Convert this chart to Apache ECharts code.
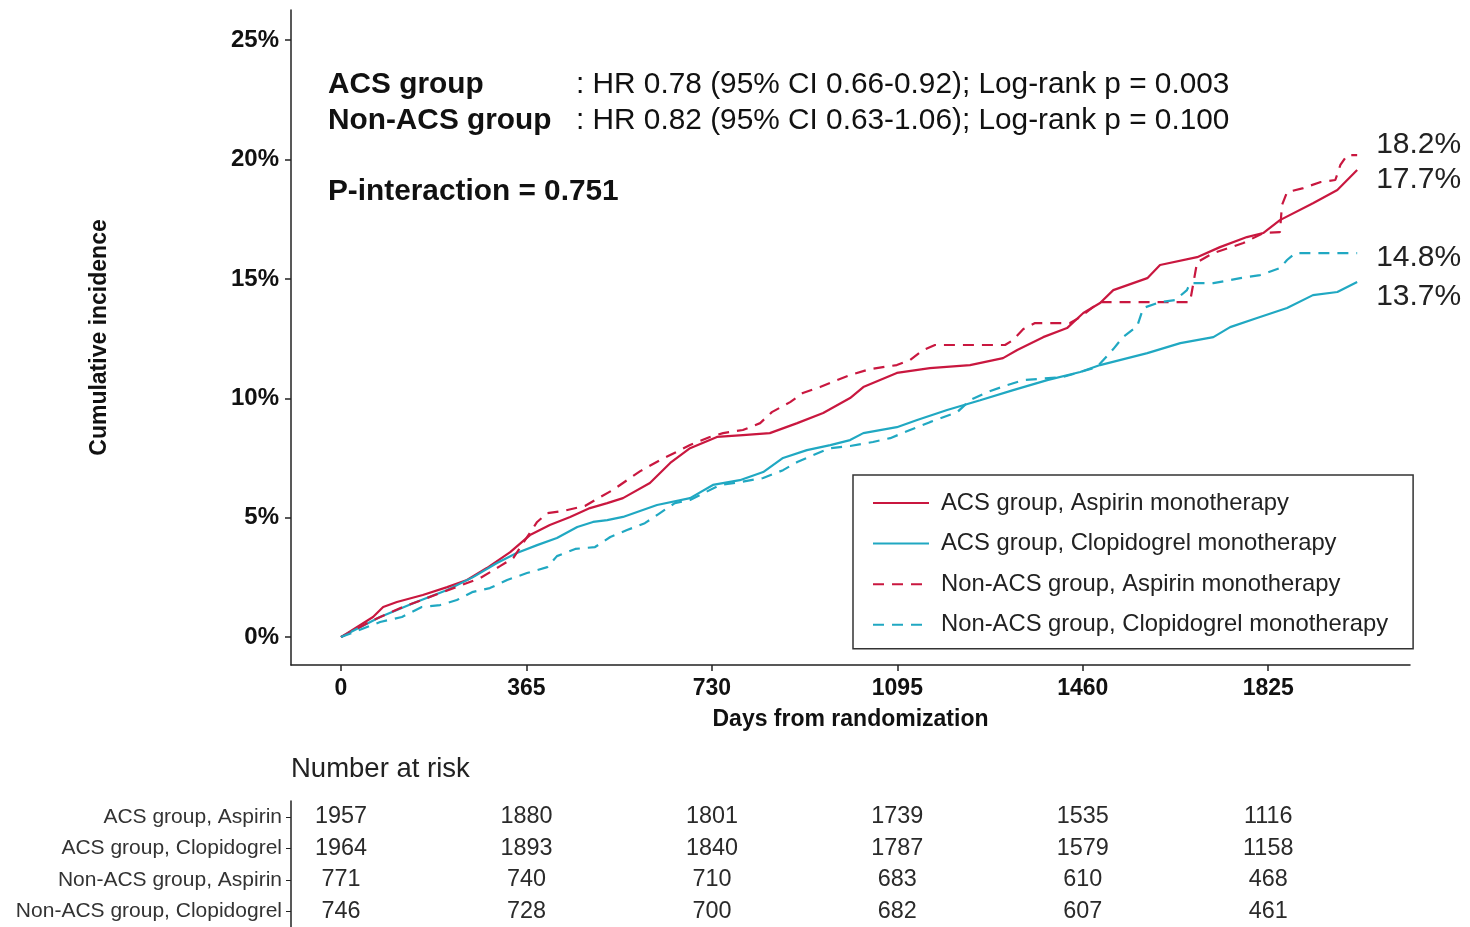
<!DOCTYPE html>
<html>
<head>
<meta charset="utf-8">
<title>Cumulative incidence by ACS status and antiplatelet monotherapy</title>
<script src="https://cdn.jsdelivr.net/npm/echarts@6/dist/echarts.min.js"></script>
<style>
  html, body { margin: 0; padding: 0; background: #fff; }
  #chart { width: 1470px; height: 927px; }
</style>
</head>
<body>
<div id="chart"></div>
<script>
// Kaplan-Meier style cumulative incidence curves, [day, percent]
const acsAspirin = [
  [0, 0], [63, 0.84], [83, 1.26], [110, 1.47], [161, 1.76], [209, 2.09], [248, 2.39],
  [287, 2.89], [333, 3.56], [372, 4.27], [411, 4.69], [451, 5.03], [490, 5.40], [524, 5.61],
  [555, 5.82], [608, 6.45], [648, 7.29], [687, 7.91], [740, 8.38], [791, 8.46], [844, 8.54],
  [898, 8.96], [949, 9.38], [1002, 10.01], [1028, 10.47], [1094, 11.06], [1159, 11.26],
  [1238, 11.39], [1303, 11.68], [1331, 12.02], [1382, 12.56], [1429, 12.94], [1461, 13.57],
  [1494, 13.99], [1520, 14.53], [1587, 15.03], [1612, 15.58], [1685, 15.91], [1730, 16.33],
  [1783, 16.75], [1815, 16.92], [1848, 17.46], [1913, 18.17], [1961, 18.72], [2000, 19.56]
];
const acsClopidogrel = [
  [0, 0], [77, 0.84], [142, 1.42], [209, 1.97], [260, 2.51], [307, 3.10], [346, 3.52],
  [386, 3.85], [425, 4.15], [465, 4.61], [496, 4.82], [524, 4.90], [555, 5.03], [622, 5.53],
  [687, 5.82], [732, 6.37], [785, 6.57], [831, 6.91], [870, 7.50], [917, 7.83], [963, 8.04],
  [1002, 8.25], [1028, 8.54], [1094, 8.79], [1134, 9.09], [1193, 9.51], [1258, 9.92],
  [1323, 10.34], [1390, 10.76], [1455, 11.10], [1494, 11.39], [1587, 11.89], [1652, 12.31],
  [1717, 12.56], [1750, 12.98], [1803, 13.36], [1862, 13.78], [1913, 14.32], [1961, 14.45],
  [2000, 14.87]
];
const nonAcsAspirin = [
  [0, 0], [63, 0.71], [116, 1.21], [195, 1.84], [274, 2.47], [313, 2.97], [339, 3.31],
  [386, 4.82], [406, 5.19], [437, 5.28], [480, 5.49], [510, 5.86], [535, 6.16], [563, 6.57],
  [589, 6.95], [628, 7.41], [687, 8.04], [726, 8.38], [752, 8.54], [791, 8.67], [825, 8.96],
  [848, 9.42], [884, 9.84], [909, 10.22], [943, 10.47], [976, 10.76], [1002, 10.97],
  [1041, 11.22], [1094, 11.39], [1120, 11.60], [1146, 12.02], [1169, 12.23], [1307, 12.23],
  [1323, 12.44], [1343, 12.90], [1366, 13.15], [1435, 13.15], [1455, 13.40], [1480, 13.82],
  [1494, 14.03], [1671, 14.03], [1685, 15.70], [1717, 16.08], [1776, 16.50], [1815, 16.92],
  [1848, 16.96], [1852, 18.09], [1862, 18.63], [1894, 18.80], [1927, 19.05], [1957, 19.14],
  [1967, 19.77], [1980, 20.18], [2000, 20.18]
];
const nonAcsClopidogrel = [
  [0, 0], [77, 0.63], [120, 0.84], [159, 1.26], [195, 1.34], [228, 1.55], [258, 1.88],
  [293, 2.05], [327, 2.39], [366, 2.68], [406, 2.93], [425, 3.39], [461, 3.69], [500, 3.77],
  [530, 4.19], [563, 4.48], [598, 4.77], [622, 5.11], [657, 5.61], [687, 5.74], [746, 6.37],
  [785, 6.49], [831, 6.66], [870, 6.99], [898, 7.33], [929, 7.62], [963, 7.91], [1002, 8.00],
  [1047, 8.17], [1081, 8.33], [1120, 8.67], [1159, 9.00], [1213, 9.42], [1238, 9.92],
  [1272, 10.26], [1311, 10.55], [1343, 10.76], [1421, 10.89], [1455, 11.10], [1488, 11.31],
  [1520, 12.06], [1539, 12.56], [1567, 13.02], [1579, 13.78], [1612, 14.03], [1642, 14.11],
  [1665, 14.53], [1671, 14.82], [1717, 14.82], [1770, 15.03], [1809, 15.16], [1848, 15.45],
  [1862, 15.79], [1878, 16.08], [2000, 16.08]
];

const seriesNames = [
  'ACS group, Aspirin monotherapy',
  'ACS group, Clopidogrel monotherapy',
  'Non-ACS group, Aspirin monotherapy',
  'Non-ACS group, Clopidogrel monotherapy'
];
// 5-year event rates printed beside the curve ends
const fiveYearRates = ['17.7%', '13.7%', '18.2%', '14.8%'];

const dayTicks = [0, 365, 730, 1095, 1460, 1825];
const pctTicks = [0, 5, 10, 15, 20, 25];

// Number at risk table
const riskRows = ['ACS group, Aspirin', 'ACS group, Clopidogrel', 'Non-ACS group, Aspirin', 'Non-ACS group, Clopidogrel'];
const riskAcsAspirin = [1957, 1880, 1801, 1739, 1535, 1116];
const riskAcsClopidogrel = [1964, 1893, 1840, 1787, 1579, 1158];
const riskNonAcsAspirin = [771, 740, 710, 683, 610, 468];
const riskNonAcsClopidogrel = [746, 728, 700, 682, 607, 461];

const RED = '#C9173F';
const CYAN = '#20A8C2';
const FONT = '"Liberation Sans", Arial, Helvetica, sans-serif';

const curves = [acsAspirin, acsClopidogrel, nonAcsAspirin, nonAcsClopidogrel];
const colors = [RED, CYAN, RED, CYAN];
const dashed = [false, false, true, true];
const endOffsets = [[0, 10], [0, 15], [0, -10], [0, 5]];

const lineSeries = curves.map((data, i) => ({
  name: seriesNames[i],
  type: 'line',
  xAxisIndex: 0,
  yAxisIndex: 0,
  data: data,
  symbol: 'none',
  silent: true,
  animation: false,
  lineStyle: { color: colors[i], width: 2.2, type: dashed[i] ? [11, 8] : 'solid' },
  itemStyle: { color: colors[i] },
  z: dashed[i] ? 3 : 2,
  endLabel: {
    show: true,
    formatter: () => fiveYearRates[i],
    color: '#222',
    fontSize: 30,
    fontFamily: FONT,
    distance: 19,
    offset: endOffsets[i]
  }
}));

const riskValues = [riskAcsAspirin, riskAcsClopidogrel, riskNonAcsAspirin, riskNonAcsClopidogrel];
const riskData = [];
riskValues.forEach((row, r) => {
  row.forEach((n, k) => riskData.push([dayTicks[k], riskRows[r], n]));
});

const xRange = { min: -98.4, max: 2104 };
const plain = v => String(v);

const option = {
  backgroundColor: '#fff',
  animation: false,
  textStyle: { fontFamily: FONT },
  grid: [
    { left: 291, right: 60, top: 10, bottom: 262, containLabel: false },
    { left: 291, right: 60, top: 801, height: 129, containLabel: false }
  ],
  xAxis: [
    {
      type: 'value', gridIndex: 0, min: xRange.min, max: xRange.max,
      axisLine: { show: true, onZero: false, lineStyle: { color: '#222', width: 1.5 } },
      axisTick: { show: true, customValues: dayTicks, length: 6, lineStyle: { color: '#222', width: 1.5 } },
      axisLabel: { customValues: dayTicks, formatter: plain, color: '#111', fontWeight: 'bold', fontSize: 23, margin: 12 },
      splitLine: { show: false },
      name: 'Days from randomization', nameLocation: 'middle', nameGap: 43,
      nameTextStyle: { color: '#111', fontWeight: 'bold', fontSize: 23 }
    },
    {
      type: 'value', gridIndex: 1, min: xRange.min, max: xRange.max, show: false
    }
  ],
  yAxis: [
    {
      type: 'value', gridIndex: 0, min: -1.17, max: 26.26,
      axisLine: { show: true, onZero: false, lineStyle: { color: '#222', width: 1.5 } },
      axisTick: { show: true, customValues: pctTicks, length: 6, lineStyle: { color: '#222', width: 1.5 } },
      axisLabel: { customValues: pctTicks, formatter: '{value}%', color: '#111', fontWeight: 'bold', fontSize: 24, margin: 12 },
      splitLine: { show: false },
      name: 'Cumulative incidence', nameLocation: 'middle', nameRotate: 90, nameGap: 180,
      nameTextStyle: { color: '#111', fontWeight: 'bold', fontSize: 23 }
    },
    {
      type: 'category', gridIndex: 1, data: riskRows, inverse: true,
      axisLine: { show: true, onZero: false, lineStyle: { color: '#222', width: 1.5 } },
      axisTick: { show: true, alignWithLabel: true, length: 5, lineStyle: { color: '#222', width: 1 } },
      axisLabel: { color: '#333', fontSize: 21, margin: 9 },
      splitLine: { show: false }
    }
  ],
  legend: {
    data: seriesNames,
    orient: 'vertical',
    left: 853,
    top: 475,
    itemWidth: 56,
    itemHeight: 20,
    itemGap: 16.6,
    padding: [16, 25, 12, 19],
    borderColor: '#333',
    borderWidth: 1.5,
    backgroundColor: '#fff',
    selectedMode: false,
    itemStyle: { opacity: 0 },
    textStyle: { color: '#222', fontSize: 23.8, padding: [0, 0, 0, 7] }
  },
  graphic: [
    { type: 'text', left: 328, top: 70, style: { text: 'ACS group', font: 'bold 29.8px ' + FONT, fill: '#111' } },
    { type: 'text', left: 576, top: 70, style: { text: ': HR 0.78 (95% CI 0.66-0.92); Log-rank p = 0.003', font: '29.8px ' + FONT, fill: '#111' } },
    { type: 'text', left: 328, top: 106, style: { text: 'Non-ACS group', font: 'bold 29.8px ' + FONT, fill: '#111' } },
    { type: 'text', left: 576, top: 106, style: { text: ': HR 0.82 (95% CI 0.63-1.06); Log-rank p = 0.100', font: '29.8px ' + FONT, fill: '#111' } },
    { type: 'text', left: 328, top: 177, style: { text: 'P-interaction = 0.751', font: 'bold 29.8px ' + FONT, fill: '#111' } },
    { type: 'text', left: 291, top: 755, style: { text: 'Number at risk', font: '27.5px ' + FONT, fill: '#222' } }
  ],
  series: lineSeries.concat([{
    name: 'Number at risk',
    type: 'scatter',
    xAxisIndex: 1,
    yAxisIndex: 1,
    data: riskData,
    symbolSize: 0,
    silent: true,
    itemStyle: { opacity: 1 },
    label: {
      show: true,
      position: 'inside',
      formatter: p => String(p.value[2]),
      color: '#2a2a2a',
      fontSize: 23.4
    }
  }])
};

const chart = echarts.init(document.getElementById('chart'), null, { renderer: 'canvas' });
chart.setOption(option);
</script>
</body>
</html>
